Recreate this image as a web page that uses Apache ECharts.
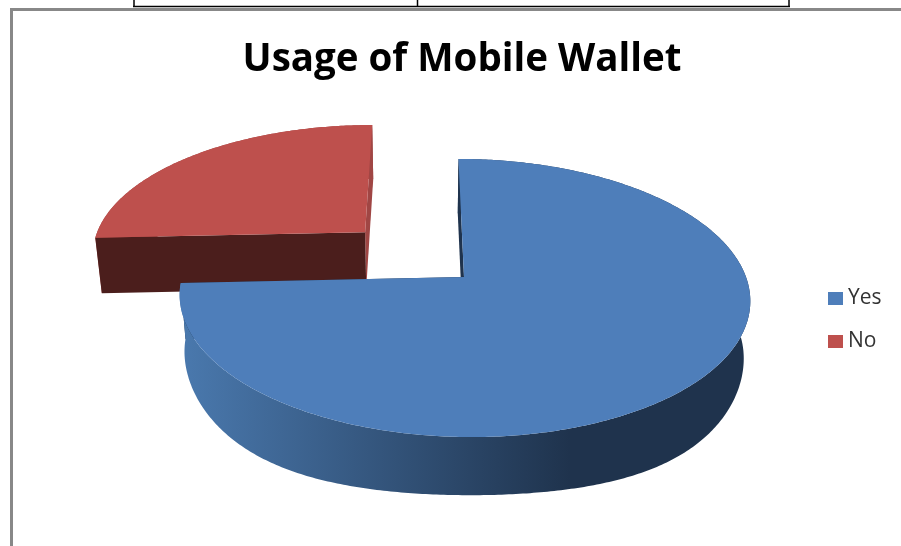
<!DOCTYPE html>
<html>
<head>
<meta charset="utf-8">
<style>html,body{margin:0;padding:0;background:#fff}#c{width:901px;height:546px}</style>
<script src="https://cdn.jsdelivr.net/npm/echarts@6/dist/echarts.min.js"></script>
</head>
<body>
<div id="c"></div>
<script>
var chartTitle = 'Usage of Mobile Wallet';
var categories = ['Yes', 'No'];
var shares = [74.3, 25.7];
var exploded = [0, 0.5];
var topColors = ['#4E7EBA', '#BE504D'];
var startFaceColors = ['#1F334D', '#4B1E1C'];
var endFaceColors = ['#1F334D', '#A04644'];
var wallStops = [
  [{offset: 0, color: '#4A79AE'}, {offset: 1, color: '#1F334D'}],
  [{offset: 0, color: '#A04644'}, {offset: 1, color: '#A04644'}]
];

// perspective scene: a unit disc lying on the ground, seen from the front
var vanishX = 422, horizonY = -623, radiusX = 282, shiftX = 42, camK = 0.151, camH = 900;
function project(x, y, lowered) {
  var p = 1 / (1 - camK * y);
  var sx = vanishX + p * (shiftX + radiusX * x);
  var sy = horizonY + camH * p;
  if (lowered) {
    sx = vanishX + (sx - vanishX) * 0.98;
    sy += 44 + 12 * p;
  }
  return [sx, sy];
}
var total = shares.reduce(function (a, b) { return a + b; }, 0);

function renderSlice(index) {
  return function () {
    var before = 0;
    for (var i = 0; i < index; i++) before += shares[i];
    var a0 = before / total * 2 * Math.PI;
    var a1 = (before + shares[index]) / total * 2 * Math.PI;
    var mid = (a0 + a1) / 2;
    var ox = Math.sin(mid) * exploded[index];
    var oy = -Math.cos(mid) * exploded[index];
    var topRim = [], lowRim = [];
    var steps = Math.max(8, Math.round((a1 - a0) * 90));
    for (var s = 0; s <= steps; s++) {
      var a = a0 + (a1 - a0) * s / steps;
      topRim.push(project(ox + Math.sin(a), oy - Math.cos(a), false));
      var low = project(ox + Math.sin(a), oy - Math.cos(a), true);
      // the lower rim of the reference is slightly squarer on the diagonals
      low[1] += 9 * Math.pow(Math.sin(2 * a), 2);
      lowRim.push(low);
    }
    var apexTop = project(ox, oy, false), apexLow = project(ox, oy, true);
    function poly(points, fill) {
      return {type: 'polygon', shape: {points: points}, style: {fill: fill, stroke: null}, silent: true};
    }
    return {
      type: 'group',
      children: [
        poly([apexTop, topRim[steps], lowRim[steps], apexLow], endFaceColors[index]),
        poly(topRim.concat(lowRim.slice().reverse()), {
          type: 'linear', global: true, x: 180, y: 0, x2: 570, y2: 0,
          colorStops: wallStops[index]
        }),
        poly([apexTop, topRim[0], lowRim[0], apexLow], startFaceColors[index]),
        poly([apexTop].concat(topRim), topColors[index])
      ]
    };
  };
}

var series = categories.map(function (name, i) {
  return {
    type: 'custom',
    name: name,
    coordinateSystem: 'none',
    silent: true,
    animation: false,
    z: 3 - i,
    itemStyle: {color: topColors[i]},
    data: [[shares[i]]],
    renderItem: renderSlice(i)
  };
});

function line(x1, y1, x2, y2, color, width) {
  return {type: 'line', silent: true, shape: {x1: x1, y1: y1, x2: x2, y2: y2},
    style: {stroke: color, lineWidth: width}};
}

var chart = echarts.init(document.getElementById('c'), null, {renderer: 'canvas'});
chart.setOption({
  backgroundColor: '#ffffff',
  animation: false,
  title: {
    text: chartTitle,
    left: 457, top: 36, textAlign: 'center',
    textStyle: {fontFamily: 'Open Sans', fontWeight: 'bold', fontSize: 38.5, color: '#000000'}
  },
  legend: {
    orient: 'vertical', left: 823, top: 283,
    icon: 'rect', itemWidth: 15, itemHeight: 13, itemGap: 22,
    itemStyle: {borderWidth: 0},
    data: categories,
    selectedMode: false,
    textStyle: {fontFamily: 'Open Sans', fontSize: 21, color: '#333333'}
  },
  graphic: [
    line(134, 0, 134, 6.5, '#000000', 1.5),
    line(417.5, 0, 417.5, 6.5, '#000000', 1.5),
    line(789, 0, 789, 6.5, '#000000', 1.5),
    line(133, 6.5, 790, 6.5, '#000000', 1.5),
    line(11.5, 9.5, 901, 9.5, '#888888', 3),
    line(11.5, 8, 11.5, 546, '#888888', 3)
  ],
  series: series
});
</script>
</body>
</html>
